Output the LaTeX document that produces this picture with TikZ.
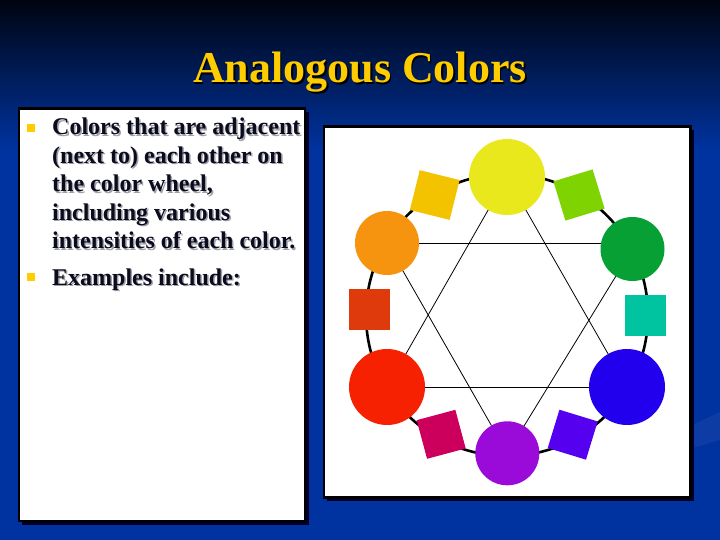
\documentclass[tikz,border=0pt]{standalone}
\usepackage{fontspec}
\setmainfont{Liberation Serif}
\definecolor{bgtop}{HTML}{000410}
\definecolor{bgblue}{HTML}{0033A0}
\definecolor{gold}{HTML}{FFCC00}
\definecolor{textdark}{HTML}{0B0B1E}
\definecolor{shadowgray}{HTML}{A0A0A8}
\definecolor{cYellow}{HTML}{E9E81D}
\definecolor{cOrange}{HTML}{F7940F}
\definecolor{cGreen}{HTML}{06A035}
\definecolor{cRed}{HTML}{F52100}
\definecolor{cBlue}{HTML}{2200EE}
\definecolor{cPurple}{HTML}{9A0BDA}
\definecolor{cYO}{HTML}{F3C300}
\definecolor{cYG}{HTML}{7FD300}
\definecolor{cRO}{HTML}{DE3A0C}
\definecolor{cBG}{HTML}{00C4A0}
\definecolor{cRV}{HTML}{CC005C}
\definecolor{cBV}{HTML}{5500EE}
\begin{document}
\begin{tikzpicture}[x=1pt,y=-1pt,
  prim/.style={circle, draw=none, inner sep=0pt, outer sep=0pt, minimum size=76pt},
  sec/.style={circle, draw=none, inner sep=0pt, outer sep=0pt, minimum size=64pt},
  tert/.style={rectangle, draw=none, inner sep=0pt, outer sep=0pt, minimum size=41pt},
  starline/.style={black, line width=0.8pt},
  ring/.style={black, line width=2.6pt},
  bodytext/.style={anchor=base west, inner sep=0pt, font=\fontsize{24}{28}\selectfont\bfseries, text=textdark},
  bodyshadow/.style={bodytext, text=shadowgray},
  panel/.style={fill=white, draw=black, line width=2.5pt},
  panelshadow/.style={fill=black!85!blue, draw=none},
  bulletsq/.style={rectangle, fill=gold, draw=none, minimum size=8pt, inner sep=0pt},
  titletext/.style={anchor=base, inner sep=0pt, font=\fontsize{44}{48}\selectfont\bfseries, text=gold},
  titleshadow/.style={titletext, text=black}
]
\useasboundingbox (0,0) rectangle (720,540);
% background
\fill[bgblue] (0,0) rectangle (720,540);
\shade[top color=bgtop, bottom color=bgblue] (0,0) rectangle (720,150);
\fill[bgblue!85!white, opacity=0.35] (692,425) -- (720,412) -- (720,440) -- (692,448) -- cycle;

% title
\node[titleshadow] (titleS) at (361.5,84.5) {Analogous Colors};
\node[titletext] (title) at (360,83) {Analogous Colors};

% left panel
\fill[panelshadow] (22,112) rectangle (309,525);
\draw[panel] (19,108.5) rectangle (305,521);

% bullets
\node[bulletsq] (b1) at (31,128) {};
\node[bulletsq] (b2) at (31,277) {};

\node[bodyshadow] (l1s) at (53.5,136.5) {Colors that are adjacent};
\node[bodyshadow] (l2s) at (53.5,165) {(next to) each other on};
\node[bodyshadow] (l3s) at (53.5,193.5) {the color wheel,};
\node[bodyshadow] (l4s) at (53.5,222) {including various};
\node[bodyshadow] (l5s) at (53.5,250) {intensities of each color.};
\node[bodyshadow] (l6s) at (53.5,286.5) {Examples include:};
\node[bodytext] (l1) at (52,135) {Colors that are adjacent};
\node[bodytext] (l2) at (52,163.5) {(next to) each other on};
\node[bodytext] (l3) at (52,192) {the color wheel,};
\node[bodytext] (l4) at (52,220.5) {including various};
\node[bodytext] (l5) at (52,248.5) {intensities of each color.};
\node[bodytext] (l6) at (52,285) {Examples include:};

% right panel
\fill[panelshadow] (327,130) rectangle (694,501);
\draw[panel] (324,126.5) rectangle (690.5,497.5);

% ring
\draw[ring] (507,315) circle[radius=141];

% primary / secondary circles
\node[prim, fill=cYellow] (yellow) at (507,177) {};
\node[sec, fill=cOrange] (orange) at (387,243) {};
\node[sec, fill=cGreen] (green) at (632.5,249) {};
\node[prim, fill=cRed] (red) at (387,387) {};
\node[prim, fill=cBlue] (blue) at (627,387) {};
\node[sec, fill=cPurple] (purple) at (507.3,453.3) {};

% tertiary squares
\node[tert, fill=cYO, rotate=-14] (yo) at (434.7,195) {};
\node[tert, fill=cYG, rotate=17] (yg) at (579,195) {};
\node[tert, fill=cRO] (ro) at (369.7,309) {};
\node[tert, fill=cBG] (bg) at (645.5,315.5) {};
\node[tert, fill=cRV, rotate=15, minimum size=40pt] (rv) at (441.2,434.3) {};
\node[tert, fill=cBV, rotate=-17, minimum size=40pt] (bv) at (572.7,434.7) {};

% hexagram
\draw[starline] (orange.east) -- (orange.east -| green.west);
\draw[starline] (red) -- (blue);
\draw[starline] (yellow) -- (red);
\draw[starline] (yellow) -- (blue);
\draw[starline] (orange) -- (purple);
\draw[starline] (green) -- (purple);
\end{tikzpicture}
\end{document}
